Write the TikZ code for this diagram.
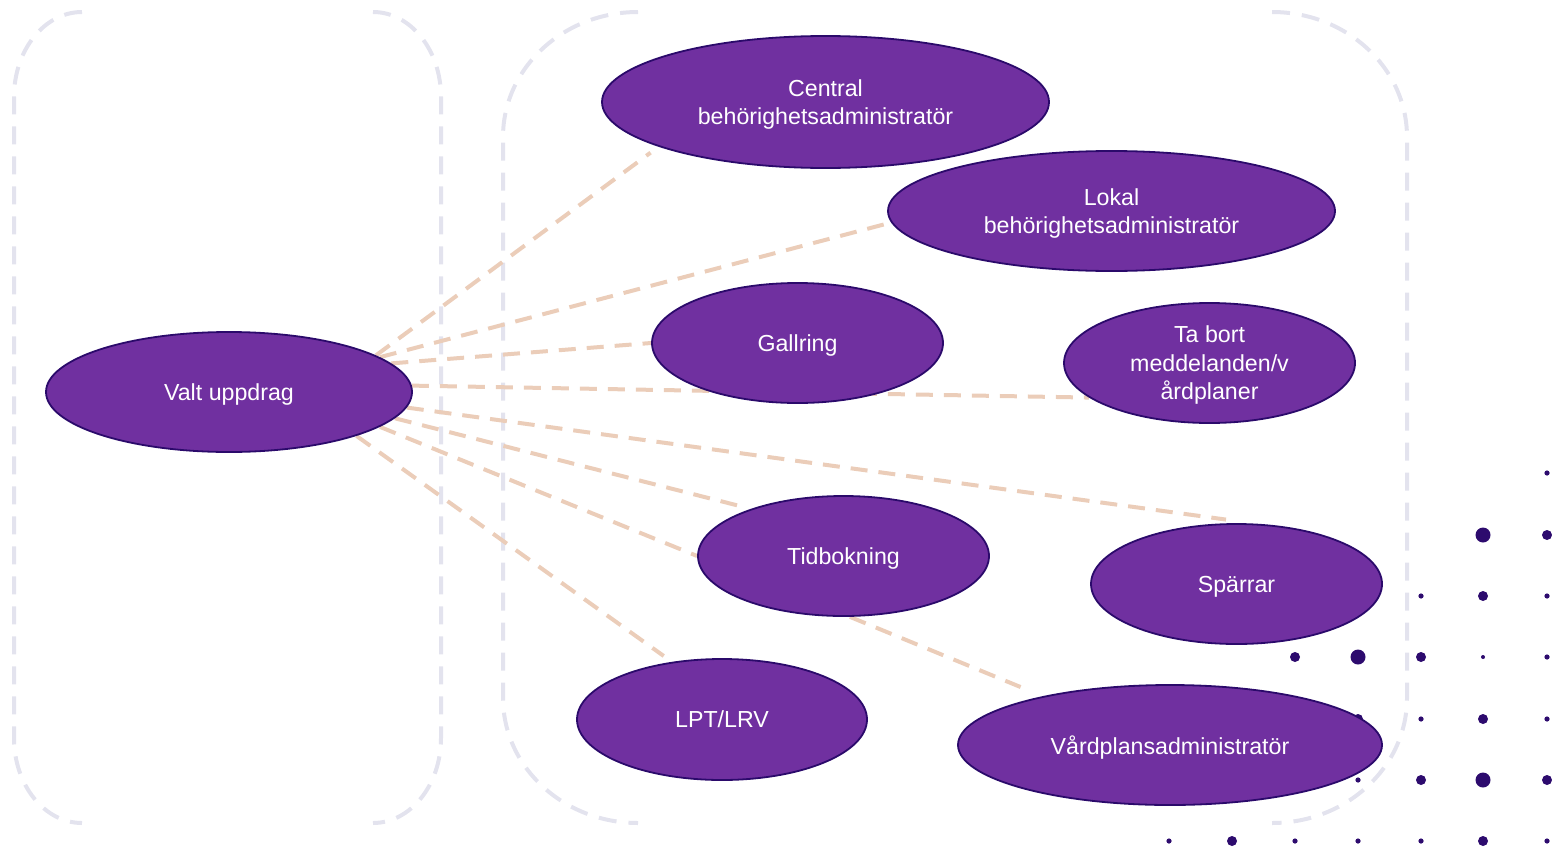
\documentclass[tikz,border=0pt]{standalone}
\usepackage{fontspec}
\setmainfont{Liberation Sans}
\usetikzlibrary{shapes.geometric}
\definecolor{ufill}{HTML}{7030A0}
\definecolor{uedge}{HTML}{2B0A6B}
\definecolor{dotc}{HTML}{2D0B6E}
\definecolor{boxc}{HTML}{E3E3EE}
\definecolor{linkc}{HTML}{EBCDB9}
\pgfdeclarelayer{bg}
\pgfsetlayers{bg,main}
\begin{document}
\begin{tikzpicture}[x=0.5pt,y=-0.5pt,
  uc/.style={ellipse, fill=ufill, draw=uedge, line width=0.9pt, text=white,
    inner sep=0pt, text depth=0pt, align=center, font=\fontsize{11.6}{14.25}\selectfont},
  ucs/.style={uc, minimum width=145.5pt, minimum height=60pt},
  grpbox/.style={draw=boxc, line width=2pt, dash pattern=on 9pt off 6pt},
  link/.style={draw=linkc, line width=2pt, dash pattern=on 8.5pt off 5.5pt},
]
\useasboundingbox (0,0) rectangle (1552,846);

% use case ellipses
\node[uc, minimum width=183pt, minimum height=60pt] (valt) at (229,392) {Valt uppdrag};
\node[uc, minimum width=223.5pt, minimum height=66pt] (central) at (825.5,102) {Central\\behörighetsadministratör};
\node[uc, minimum width=223.5pt, minimum height=60pt] (lokal) at (1111.5,211) {Lokal\\behörighetsadministratör};
\node[ucs] (gallring) at (797.5,343) {Gallring};
\node[ucs] (tabort) at (1209.5,363) {Ta bort\\meddelanden/v\\årdplaner};
\node[ucs] (tid) at (843.5,556) {Tidbokning};
\node[ucs] (sparr) at (1236.5,584) {Spärrar};
\node[uc, minimum width=145pt, minimum height=60.5pt] (lpt) at (722,719.5) {LPT/LRV};
\node[uc, minimum width=212pt, minimum height=60pt] (vard) at (1170,745) {Vårdplansadministratör};

\begin{pgfonlayer}{bg}
% dashed group boxes (sides and corners only)
\draw[grpbox] (82,12) .. controls (44.5,12) and (14,50) .. (14,97) -- (14,738)
  .. controls (14,785) and (44.5,823) .. (82,823);
\draw[grpbox] (373,12) .. controls (410.5,12) and (441,50) .. (441,97) -- (441,738)
  .. controls (441,785) and (410.5,823) .. (373,823);
\draw[grpbox] (638,12) .. controls (563.5,12) and (503,68) .. (503,137) -- (503,698)
  .. controls (503,767) and (563.5,823) .. (638,823);
\draw[grpbox] (1272,12) .. controls (1346.5,12) and (1407,68) .. (1407,137) -- (1407,698)
  .. controls (1407,767) and (1346.5,823) .. (1272,823);

% dot grid
\fill[dotc] (1547,473) circle[radius=1.3pt];
\fill[dotc] (1483,535) circle[radius=3.75pt];
\fill[dotc] (1547,535) circle[radius=2.5pt];
\fill[dotc] (1421,596) circle[radius=1.3pt];
\fill[dotc] (1483,596) circle[radius=2.5pt];
\fill[dotc] (1547,596) circle[radius=1.3pt];
\fill[dotc] (1295,657) circle[radius=2.5pt];
\fill[dotc] (1358,657) circle[radius=3.75pt];
\fill[dotc] (1421,657) circle[radius=2.5pt];
\fill[dotc] (1483,657) circle[radius=1pt];
\fill[dotc] (1547,657) circle[radius=1.3pt];
\fill[dotc] (1358,719) circle[radius=2.5pt];
\fill[dotc] (1421,719) circle[radius=1.3pt];
\fill[dotc] (1483,719) circle[radius=2.5pt];
\fill[dotc] (1547,719) circle[radius=1.3pt];
\fill[dotc] (1358,780) circle[radius=1.3pt];
\fill[dotc] (1421,780) circle[radius=2.5pt];
\fill[dotc] (1483,780) circle[radius=3.75pt];
\fill[dotc] (1547,780) circle[radius=2.5pt];
\fill[dotc] (1169,841) circle[radius=1.3pt];
\fill[dotc] (1232,841) circle[radius=2.5pt];
\fill[dotc] (1295,841) circle[radius=1.3pt];
\fill[dotc] (1358,841) circle[radius=1.3pt];
\fill[dotc] (1421,841) circle[radius=1.3pt];
\fill[dotc] (1483,841) circle[radius=2.5pt];
\fill[dotc] (1547,841) circle[radius=1.3pt];

% connectors
\draw[link, shorten >=5pt] (valt.14) -- (central.195);
\draw[link] (valt.13) -- (lokal.183.4);
\draw[link] (valt.10) -- (gallring.west);
\draw[link] (valt.2.5) -- (tabort.196.3);
\draw[link, shorten >=41pt] (valt.-5.2) -- (sparr.37.6);
\draw[link, shorten >=5pt] (valt.-9.6) -- (tid.153.8);
\draw[link] (valt.-13.7) -- (tid.west);
\draw[link, shorten >=5pt] (valt.-19.7) -- (lpt.131.5);
\draw[link, shorten >=12pt] (tid.-84) -- (vard.159.2);
\end{pgfonlayer}
\end{tikzpicture}
\end{document}
